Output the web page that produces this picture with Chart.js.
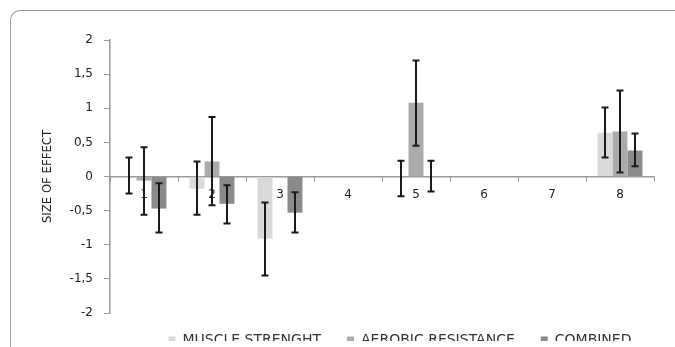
<!DOCTYPE html>
<html>
<head>
<meta charset="utf-8">
<script src="https://cdn.jsdelivr.net/npm/chart.js@4.4.0/dist/chart.umd.min.js"></script>
<style>
  html, body { margin: 0; padding: 0; background: #fff; }
  #wrap { position: relative; width: 675px; height: 347px; overflow: hidden; }
  #frame { position: absolute; left: 10px; top: 10px; width: 700px; height: 400px;
           border-left: 1.5px solid #9a9a9a; border-top: 1.5px solid #9a9a9a;
           border-top-left-radius: 10px; box-sizing: border-box; }
  canvas { position: absolute; left: 0; top: 0; }
</style>
</head>
<body>
<div id="wrap">
  <div id="frame"></div>
  <canvas id="c" width="675" height="347"></canvas>
</div>
<script>
const categories = ['1', '2', '3', '4', '5', '6', '7', '8'];
const seriesNames = ['MUSCLE STRENGHT', 'AEROBIC RESISTANCE', 'COMBINED'];

const muscleStrength = [0, -0.18, -0.91, 0, 0, 0, 0, 0.64];
const muscleLow      = [-0.25, -0.56, -1.45, null, -0.29, null, null, 0.28];
const muscleHigh     = [0.28, 0.22, -0.38, null, 0.23, null, null, 1.01];

const aerobic        = [-0.06, 0.22, 0, 0, 1.08, 0, 0, 0.66];
const aerobicLow     = [-0.56, -0.42, null, null, 0.45, null, null, 0.06];
const aerobicHigh    = [0.43, 0.87, null, null, 1.70, null, null, 1.26];

const combined       = [-0.47, -0.40, -0.53, 0, 0, 0, 0, 0.38];
const combinedLow    = [-0.82, -0.69, -0.82, null, -0.22, null, null, 0.15];
const combinedHigh   = [-0.10, -0.13, -0.23, null, 0.23, null, null, 0.63];

const yTicks = [-2, -1.5, -1, -0.5, 0, 0.5, 1, 1.5, 2];

const errorBars = [
  { low: muscleLow, high: muscleHigh },
  { low: aerobicLow, high: aerobicHigh },
  { low: combinedLow, high: combinedHigh }
];

const errorBarPlugin = {
  id: 'errorBars',
  afterDatasetsDraw(chart) {
    const ctx = chart.ctx;
    const y = chart.scales.y;
    ctx.save();
    ctx.strokeStyle = '#1a1a1a';
    ctx.lineWidth = 2;
    errorBars.forEach((eb, i) => {
      const meta = chart.getDatasetMeta(i);
      meta.data.forEach((bar, j) => {
        const lo = eb.low[j], hi = eb.high[j];
        if (lo == null || hi == null) return;
        const x = Math.round(bar.x);
        const y1 = y.getPixelForValue(hi), y2 = y.getPixelForValue(lo);
        const cap = 3.5;
        ctx.beginPath();
        ctx.moveTo(x, y1); ctx.lineTo(x, y2);
        ctx.moveTo(x - cap, y1); ctx.lineTo(x + cap, y1);
        ctx.moveTo(x - cap, y2); ctx.lineTo(x + cap, y2);
        ctx.stroke();
      });
    });
    ctx.restore();
  }
};

// Legend placement tweak: fixed height, shifted to the reference position.
const legendPlacePlugin = {
  id: 'legendPlace',
  beforeLayout(chart) {
    const lg = chart.legend;
    if (!lg || lg._patched) return;
    lg._patched = true;
    const origFit = lg.fit;
    lg.fit = function () { origFit.call(this); this.height = 34; };
    const origDraw = lg.draw;
    lg.draw = function () {
      const ctx = this.ctx;
      ctx.save();
      ctx.translate(73, -6);
      origDraw.call(this);
      ctx.restore();
    };
  }
};

const tickFont = { family: 'DejaVu Sans', size: 12 };

new Chart(document.getElementById('c'), {
  type: 'bar',
  data: {
    labels: categories,
    datasets: [
      { label: seriesNames[0], data: muscleStrength, backgroundColor: '#d9d9d9' },
      { label: seriesNames[1], data: aerobic, backgroundColor: '#ababab' },
      { label: seriesNames[2], data: combined, backgroundColor: '#8a8a8a' }
    ]
  },
  options: {
    responsive: false,
    animation: false,
    devicePixelRatio: 1,
    datasets: { bar: { categoryPercentage: 0.66, barPercentage: 1.0 } },
    layout: { padding: { left: 0, right: 21, top: 40, bottom: 0 } },
    plugins: {
      tooltip: { enabled: false },
      legend: {
        position: 'bottom',
        labels: {
          boxWidth: 7, boxHeight: 7, padding: 26,
          color: '#333', font: { family: 'DejaVu Sans', size: 14 }
        }
      }
    },
    scales: {
      x: {
        position: { y: 0 },
        offset: true,
        grid: { display: true, drawOnChartArea: false, drawTicks: true, tickLength: 4, color: '#9a9a9a', offset: true },
        border: { display: true, color: '#9a9a9a', width: 1.5 },
        ticks: { color: '#222', font: tickFont, padding: 7 }
      },
      y: {
        min: -2, max: 2,
        afterFit(scale) { scale.width = 110; },
        afterBuildTicks(scale) { scale.ticks = yTicks.map(v => ({ value: v })); },
        grid: { display: true, drawOnChartArea: false, drawTicks: true, tickLength: 6, color: '#9a9a9a' },
        border: { display: true, color: '#9a9a9a', width: 1.5 },
        ticks: {
          color: '#222', font: tickFont, padding: 11,
          callback: (v) => String(v).replace('.', ',')
        },
        title: {
          display: true, text: 'SIZE OF EFFECT', color: '#222',
          font: { family: "'Liberation Sans Narrow', 'DejaVu Sans Condensed', sans-serif", size: 13 },
          padding: { top: 40, bottom: 0 }
        }
      }
    }
  },
  plugins: [errorBarPlugin, legendPlacePlugin]
});
</script>
</body>
</html>
